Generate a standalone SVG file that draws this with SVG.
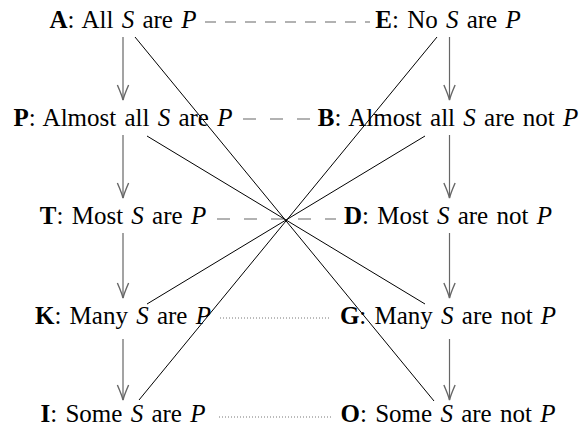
<svg xmlns="http://www.w3.org/2000/svg" width="585" height="434" viewBox="0 0 585 434">
<style>
text{font-family:'Liberation Serif','Times New Roman',serif;font-size:25px;fill:#000;word-spacing:2px}
.b{font-weight:bold}
.i{font-style:italic}
.arr{stroke:#666;stroke-width:1.2;fill:none}
.diag{stroke:#000;stroke-width:1;fill:none}
.dashA{stroke:#666;stroke-width:1.2;stroke-dasharray:11 9}
.dash{stroke:#666;stroke-width:1.2;stroke-dasharray:13 14}
.dot{stroke:#777;stroke-width:1;stroke-dasharray:1 2}
</style>
<defs>
<marker id="ah" markerUnits="userSpaceOnUse" markerWidth="20" markerHeight="20" viewBox="-14 -7 16 14" refX="0" refY="0" orient="auto">
<path d="M-12,-4.5 Q-4,-1 0,0 Q-4,1 -12,4.5" fill="none" stroke="#666" stroke-width="1.1"/>
</marker>
</defs>
<g id="connectors">
<line class="dashA" x1="205" y1="22" x2="370" y2="22"/>
<line class="dash" x1="243" y1="119" x2="311" y2="119"/>
<line class="dash" x1="217" y1="219" x2="336" y2="219"/>
<line class="dot" x1="220" y1="318" x2="331" y2="318"/>
<line class="dot" x1="219" y1="417" x2="331" y2="417"/>
<line class="arr" x1="123" y1="37" x2="123" y2="100" marker-end="url(#ah)"/>
<line class="arr" x1="123" y1="135" x2="123" y2="198" marker-end="url(#ah)"/>
<line class="arr" x1="123" y1="233" x2="123" y2="298" marker-end="url(#ah)"/>
<line class="arr" x1="123" y1="339" x2="123" y2="400" marker-end="url(#ah)"/>
<line class="arr" x1="449.5" y1="37" x2="449.5" y2="100" marker-end="url(#ah)"/>
<line class="arr" x1="449.5" y1="135" x2="449.5" y2="198" marker-end="url(#ah)"/>
<line class="arr" x1="449.5" y1="233" x2="449.5" y2="298" marker-end="url(#ah)"/>
<line class="arr" x1="449.5" y1="339" x2="449.5" y2="400" marker-end="url(#ah)"/>
<line class="diag" x1="135" y1="37" x2="434" y2="401"/>
<line class="diag" x1="437" y1="37" x2="139" y2="400"/>
<line class="diag" x1="147" y1="136" x2="425" y2="304"/>
<line class="diag" x1="425" y1="136" x2="147" y2="304"/>
</g>
<g id="A"><text x="123" y="28" text-anchor="middle"><tspan class="b">A</tspan>: All <tspan class="i">S</tspan> are <tspan class="i">P</tspan></text></g>
<g id="E"><text x="448" y="28" text-anchor="middle"><tspan class="b">E</tspan>: No <tspan class="i">S</tspan> are <tspan class="i">P</tspan></text></g>
<g id="P"><text x="123" y="126" text-anchor="middle"><tspan class="b">P</tspan>: Almost all <tspan class="i">S</tspan> are <tspan class="i">P</tspan></text></g>
<g id="B"><text x="448" y="126" text-anchor="middle"><tspan class="b">B</tspan>: Almost all <tspan class="i">S</tspan> are not <tspan class="i">P</tspan></text></g>
<g id="T"><text x="123" y="224" text-anchor="middle"><tspan class="b">T</tspan>: Most <tspan class="i">S</tspan> are <tspan class="i">P</tspan></text></g>
<g id="D"><text x="448" y="224" text-anchor="middle"><tspan class="b">D</tspan>: Most <tspan class="i">S</tspan> are not <tspan class="i">P</tspan></text></g>
<g id="K"><text x="123" y="324" text-anchor="middle"><tspan class="b">K</tspan>: Many <tspan class="i">S</tspan> are <tspan class="i">P</tspan></text></g>
<g id="G"><text x="448" y="324" text-anchor="middle"><tspan class="b">G</tspan>: Many <tspan class="i">S</tspan> are not <tspan class="i">P</tspan></text></g>
<g id="I"><text x="123" y="422" text-anchor="middle"><tspan class="b">I</tspan>: Some <tspan class="i">S</tspan> are <tspan class="i">P</tspan></text></g>
<g id="O"><text x="448" y="422" text-anchor="middle"><tspan class="b">O</tspan>: Some <tspan class="i">S</tspan> are not <tspan class="i">P</tspan></text></g>
</svg>
